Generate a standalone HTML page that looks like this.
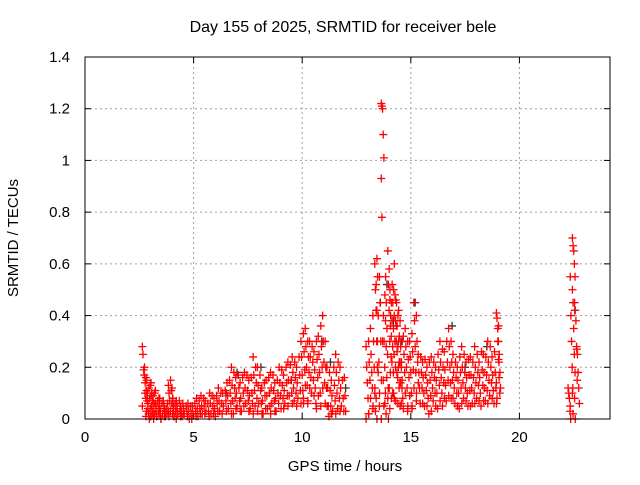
<!DOCTYPE html>
<html><head><meta charset="utf-8"><style>
body{margin:0;background:#fff}
svg text{font-family:"Liberation Sans",sans-serif;font-size:15px;fill:#000}
</style></head><body>
<svg id="chart" width="640" height="480" xmlns="http://www.w3.org/2000/svg">
<rect width="640" height="480" fill="#fff"/>
<text x="343" y="32" text-anchor="middle" style="font-size:16px">Day 155 of 2025, SRMTID for receiver bele</text>
<text x="345" y="471" text-anchor="middle">GPS time / hours</text>
<text transform="translate(18,238) rotate(-90)" text-anchor="middle">SRMTID / TECUs</text>
<g id="grid"></g>
<g id="ticks"></g>
<g id="black"></g>
<g id="red"></g>
<rect x="85" y="57" width="525" height="362" fill="none" stroke="#000" stroke-width="1"/>
</svg>
<script>
const xTicks=[0,5,10,15,20];
const yTicks=[0,0.2,0.4,0.6,0.8,1,1.2,1.4];
const yTickLabels=["0","0.2","0.4","0.6","0.8","1","1.2","1.4"];
const times=[2.7,2.8,2.9,3.0,3.1,3.2,3.3,3.4,3.5,3.6,3.7,3.8,3.9,4.0,4.1,4.2,4.3,4.4,4.6,4.8,5.0,5.2,5.4,5.6,5.8,6.0,6.2,6.4,6.6,6.8,7.0,7.2,7.4,7.6,7.8,8.0,8.2,8.4,8.6,8.8,9.0,9.2,9.4,9.6,9.8,10.0,10.2,10.4,10.6,10.8,11.0,11.2,11.4,11.6,11.8,12.0,13.0,13.2,13.4,13.5,13.7,13.8,13.9,14.0,14.1,14.2,14.3,14.4,14.5,14.6,14.8,15.0,15.2,15.4,15.6,15.8,16.0,16.2,16.4,16.6,16.8,17.0,17.2,17.4,17.6,17.8,18.0,18.2,18.4,18.6,18.8,19.0,19.1,22.3,22.4,22.5,22.6,22.7];
const values=[[.28,.25,.19,.17,.1,.05],[.2,.14,.08,.03],[.15,.1,.06,.02,0],[.12,.08,.04,.01],[.14,.1,.07,.03,0],[.09,.06,.02],[.11,.05,.01],[.07,.04,.02],[.08,.03,0],[.06,.02],[.05,.03,.01],[.04,.02],[.13,.1,.07,.03],[.15,.11,.06,.02],[.08,.04,.01],[.06,.03,0],[.05,.02],[.07,.03,.01],[.04,.02],[.06,.03,0],[.05,.02],[.08,.04,.01],[.09,.05,.02],[.07,.03],[.1,.06,.02],[.08,.04,.01],[.12,.07,.03],[.1,.05],[.14,.09,.04],[.2,.13,.07,.02],[.16,.1,.05],[.14,.08,.03],[.18,.12,.06],[.15,.09,.04],[.24,.17,.11,.05],[.2,.13,.06],[.12,.07,.02],[.15,.09,.04],[.18,.12,.06],[.14,.08,.03],[.2,.14,.09,.04],[.17,.11,.06],[.22,.15,.09],[.24,.18,.12,.07],[.2,.14,.08],[.3,.24,.17,.11,.06],[.35,.28,.2,.13,.07],[.3,.24,.16,.1],[.26,.19,.12,.06],[.32,.25,.18,.1],[.4,.3,.22,.14,.06],[.2,.12,.05,.01],[.15,.09,.03],[.25,.18,.1,.04],[.2,.12,.05],[.16,.09,.03],[.28,.2,.14,.08,.02,0],[.35,.25,.18,.12,.05],[.6,.5,.42,.3,.2,.1,.03],[.62,.55,.4,.22,.1,0],[1.22,1.21,1.2,1.1,1.01,.93,.78,.3,.15,.05,0],[.4,.3,.2,.1,.02],[.55,.45,.35,.25,.12],[.65,.52,.42,.3,.18,.08,0],[.5,.4,.32,.22,.1],[.52,.45,.35,.25],[.6,.48,.38,.3,.18,.08],[.45,.36,.28,.2,.12],[.42,.32,.22,.14,.06],[.3,.22,.15,.08],[.35,.28,.2,.12,.05],[.3,.24,.18,.1,.04],[.45,.38,.28,.18,.1],[.25,.18,.12,.06],[.22,.16,.1,.05],[.2,.14,.08,.02],[.24,.18,.12,.07],[.2,.15,.1,.04],[.3,.22,.16,.1,.05],[.26,.19,.13,.07],[.35,.28,.2,.14,.08],[.25,.18,.12,.06],[.2,.15,.1,.04],[.28,.2,.14,.08],[.22,.16,.1,.05],[.24,.17,.12,.06],[.28,.2,.14,.08],[.22,.16,.1,.05],[.25,.18,.12,.07],[.3,.22,.15,.09],[.24,.17,.11,.06],[.41,.39,.35,.3,.22,.14,.08],[.36,.25,.18,.12],[.12,.1,.08,.03,0],[.55,.4,.3,.2,.12,.05],[.7,.67,.65,.6,.55,.5,.45,.35,.25,.18,.1,.02],[.45,.42,.38,.28,.15,.08,0],[.27,.25,.18,.12,.06]];
const times2=[2.85,3.05,3.25,3.45,3.65,3.85,4.05,4.25,4.45,4.55,4.7,4.9,5.1,5.3,5.5,5.7,5.9,6.1,6.3,6.5,6.7,6.9,7.1,7.3,7.5,7.7,7.9,8.1,8.3,8.5,8.7,8.9,9.1,9.3,9.5,9.7,9.9,10.1,10.3,10.5,10.7,10.9,11.1,11.3,11.5,11.7,11.9,13.1,13.3,13.45,13.6,13.85,14.05,14.15,14.25,14.35,14.45,14.55,14.7,14.9,15.1,15.3,15.5,15.7,15.9,16.1,16.3,16.5,16.7,16.9,17.1,17.3,17.5,17.7,17.9,18.1,18.3,18.5,18.7,18.9,19.05];
const values2=[[.16,.11,.07,.04,.01],[.13,.09,.05,.02],[.1,.06,.03,.01],[.08,.05,.02,0],[.07,.04,.01],[.06,.03,.01],[.12,.08,.05,.01],[.07,.04,.02],[.05,.03,.01],[.06,.02],[.05,.03,.01],[.05,.02,0],[.06,.03,.01],[.07,.04,.02],[.08,.05,.02],[.06,.03,.01],[.09,.05,.02],[.09,.06,.03],[.1,.06,.02],[.11,.07,.03],[.15,.1,.06,.02],[.18,.12,.08,.04],[.17,.12,.07,.03],[.16,.1,.05],[.17,.11,.07,.03],[.16,.1,.06,.02],[.2,.14,.08,.03],[.17,.11,.06,.02],[.14,.09,.04],[.16,.1,.05,.02],[.17,.11,.07,.03],[.15,.1,.06],[.19,.13,.08,.04],[.2,.14,.09,.05],[.21,.15,.1,.06],[.22,.16,.1,.05],[.24,.17,.11,.06],[.33,.26,.19,.13,.08],[.3,.24,.18,.12,.06],[.28,.22,.15,.09],[.3,.23,.16,.09,.04],[.36,.28,.2,.12,.05],[.3,.2,.12,.05],[.18,.11,.05,.02],[.2,.13,.07,.02],[.22,.15,.08,.03],[.15,.08,.03],[.3,.22,.15,.08,.02],[.4,.3,.2,.12,.04],[.52,.42,.3,.18,.08],[.55,.45,.3,.15,.05],[.48,.38,.28,.16,.06],[.58,.46,.36,.24,.12,.04],[.45,.38,.28,.18,.08],[.5,.4,.3,.2,.1],[.46,.36,.26,.16,.07],[.4,.3,.22,.14,.06],[.38,.28,.2,.12,.05],[.32,.25,.18,.1,.04],[.3,.23,.16,.09,.03],[.33,.26,.19,.12,.05],[.4,.3,.22,.14,.07],[.24,.18,.12,.06],[.23,.17,.11,.05],[.22,.15,.09,.03],[.22,.16,.1,.05],[.25,.19,.13,.07],[.27,.2,.14,.08],[.3,.22,.15,.09],[.3,.22,.15,.08],[.22,.16,.1,.05],[.24,.18,.12,.06],[.25,.18,.12,.07],[.23,.17,.11,.05],[.22,.16,.1,.06],[.25,.18,.13,.07],[.26,.19,.13,.07],[.24,.17,.11,.06],[.28,.2,.14,.08],[.26,.18,.12,.06],[.3,.23,.16,.1],[.38,.3,.22,.15,.1]];
const blackTimes=[7.0,8.1,10.9,11.3,13.6,13.9,14.2,15.2,16.9,18.5,22.55,6.5,9.5,12.0,14.6,17.5];
const blackValues=[.18,.2,.3,.22,.45,.52,.38,.45,.36,.28,.42,.1,.15,.12,.3,.2];

const NS="http://www.w3.org/2000/svg";
const X0=85,X1=610,Y0=419,Y1=57,XMAX=24.17,YMAX=1.4;
function sx(t){return X0+(X1-X0)*t/XMAX;}
function sy(v){return Y0-(Y0-Y1)*v/YMAX;}
function mk(tag,attrs,parent){const e=document.createElementNS(NS,tag);for(const k in attrs)e.setAttribute(k,attrs[k]);parent.appendChild(e);return e;}
const grid=document.getElementById('grid'),ticks=document.getElementById('ticks');
xTicks.forEach(t=>{
  const x=sx(t);
  if(t>0){const g=mk('line',{x1:x,x2:x,y1:Y1,y2:Y0,stroke:'#a0a0a0','stroke-dasharray':'2,3'},grid);
  
  }
  mk('line',{x1:x,x2:x,y1:Y0,y2:Y0-6,stroke:'#000'},ticks);
  mk('line',{x1:x,x2:x,y1:Y1,y2:Y1+6,stroke:'#000'},ticks);
  const tx=mk('text',{x:x,y:Y0+23,'text-anchor':'middle'},ticks);tx.textContent=t;
  
  
});
yTicks.forEach((v,i)=>{
  const y=sy(v);
  if(v>0&&v<YMAX){const g=mk('line',{x1:X0,x2:X1,y1:y,y2:y,stroke:'#a0a0a0','stroke-dasharray':'2,3'},grid);
  
  }
  mk('line',{x1:X0,x2:X0+6,y1:y,y2:y,stroke:'#000'},ticks);
  mk('line',{x1:X1,x2:X1-6,y1:y,y2:y,stroke:'#000'},ticks);
  const tx=mk('text',{x:X0-15,y:y+5,'text-anchor':'end'},ticks);tx.textContent=yTickLabels[i];
  
  
});
function plus(t,v,color,g){
  const x=sx(t),y=sy(v);
  const p=mk('path',{d:`M${x-4},${y}h8M${x},${y-4}v8`,stroke:color,'stroke-width':1.3,fill:'none'},g);
  
  
}
const bg=document.getElementById('black'),rg=document.getElementById('red');
blackTimes.forEach((t,i)=>plus(t,blackValues[i],'#333',bg));
times.forEach((t,i)=>values[i].forEach((v,j)=>{
  plus(t+((j%5)-2)*0.03,v,'#ff0000',rg);
}));
times2.forEach((t,i)=>values2[i].forEach((v,j)=>{
  plus(t+((j%4)-1.5)*0.03,v,'#ff0000',rg);
}));
</script>
</body></html>
